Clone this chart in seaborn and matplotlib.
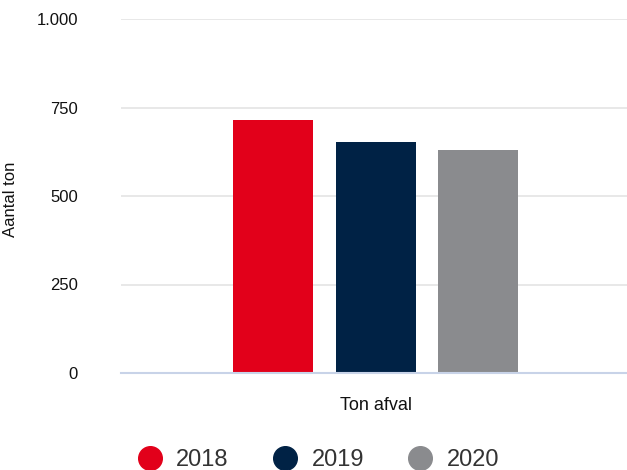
import pandas as pd
import matplotlib
matplotlib.use("Agg")
import matplotlib.pyplot as plt
from matplotlib.lines import Line2D
from matplotlib.ticker import FuncFormatter
import seaborn as sns

# Data
jaren = ["2018", "2019", "2020"]
ton = [715, 653, 631]
categorie = ["Ton afval"] * 3
kleuren = ["#E2001A", "#002245", "#8A8B8E"]

df = pd.DataFrame({"categorie": categorie, "jaar": jaren, "ton": ton})

sns.set_style("white")
plt.rcParams["font.family"] = ["Liberation Sans", "DejaVu Sans"]

fig = plt.figure(figsize=(6.27, 4.70), dpi=100)
ax = fig.add_axes([121 / 627, 1 - 373 / 470, (627 - 121) / 627, (373 - 19) / 470])

sns.barplot(data=df, x="categorie", y="ton", hue="jaar", palette=kleuren,
            width=0.605, gap=0.216, linewidth=0, saturation=1, legend=False, ax=ax)

ax.set_ylim(0, 1000)
ax.set_xlim(-0.503, 0.497)
ax.set_yticks([0, 250, 500, 750, 1000])
ax.yaxis.set_major_formatter(FuncFormatter(lambda v, p: f"{int(v):,}".replace(",", ".")))
ax.tick_params(axis="y", length=0, pad=31, labelsize=12, labelcolor="#111111")
ax.tick_params(axis="x", length=0, pad=17, labelsize=13, labelcolor="#111111")

ax.grid(axis="y", color="#e6e6e6", linewidth=1.3)
ax.set_axisbelow(True)
for side in ["top", "right", "left"]:
    ax.spines[side].set_visible(False)
ax.spines["bottom"].set_color("#c8d3e8")
ax.spines["bottom"].set_linewidth(1.5)

ax.set_xlabel("")
ax.set_ylabel("Aantal ton", fontsize=12, color="#111111")
ax.yaxis.set_label_coords(-0.2036, 0.49)

# Legend with circle markers
handles = [Line2D([], [], marker="o", linestyle="", markersize=17,
                  markerfacecolor=c, markeredgecolor=c) for c in kleuren]
fig.legend(handles, jaren, loc="center left", ncol=3, frameon=False,
           bbox_to_anchor=(138 / 627, 1 - 460 / 470), bbox_transform=fig.transFigure,
           borderpad=0, borderaxespad=0, handlelength=1.0, handletextpad=0.62,
           columnspacing=1.88, prop={"size": 17}, labelcolor="#333333")

fig.savefig("out.png", dpi=100)
